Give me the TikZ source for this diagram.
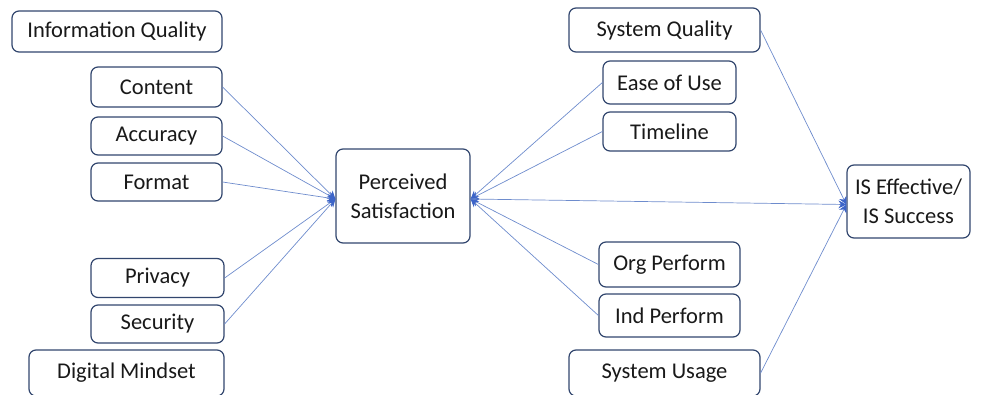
\documentclass[tikz,border=0pt]{standalone}
\usepackage{fontspec}
\setmainfont{Carlito}
\usetikzlibrary{arrows.meta}
\definecolor{boxline}{RGB}{50,70,110}
\definecolor{conn}{RGB}{110,140,205}
\definecolor{tipc}{RGB}{60,100,200}
\definecolor{txt}{RGB}{25,25,25}
\begin{document}
\begin{tikzpicture}[x=1pt,y=-1pt,
  box/.style={draw=boxline,line width=1.2pt,rounded corners=7pt,fill=white,inner sep=0pt,text=txt,font=\fontsize{22.5}{29}\selectfont,align=center},
  link/.style={draw=conn,line width=0.7pt},
  arr/.style={link,-{Stealth[length=8pt,width=8pt,color=tipc]}}]
\useasboundingbox (0,0) rectangle (982,394);
\node[box,minimum width=210pt,minimum height=41pt] (iq) at (117,31.5) {Information Quality};
\node[box,minimum width=131pt,minimum height=40pt] (content) at (156.5,87) {Content};
\node[box,minimum width=131pt,minimum height=38pt] (acc) at (156.5,136) {Accuracy};
\node[box,minimum width=131pt,minimum height=38pt] (fmt) at (156.5,182) {Format};
\node[box,minimum width=133pt,minimum height=39pt] (priv) at (157.5,278) {Privacy};
\node[box,minimum width=133pt,minimum height=38pt] (sec) at (157.5,324) {Security};
\node[box,minimum width=195pt,minimum height=46pt] (dm) at (126.5,373) {Digital Mindset};
\node[box,minimum width=134pt,minimum height=94pt] (ps) at (403,196) {Perceived\\Satisfaction};
\node[box,minimum width=191pt,minimum height=44pt] (sq) at (664.5,30) {System Quality};
\node[box,minimum width=133pt,minimum height=43pt] (eou) at (669.5,82.5) {Ease of Use};
\node[box,minimum width=133pt,minimum height=39pt] (tl) at (669.5,131.5) {Timeline};
\node[box,minimum width=141pt,minimum height=45pt] (org) at (669.5,264.5) {Org Perform};
\node[box,minimum width=141pt,minimum height=43pt] (ind) at (669.5,315.5) {Ind Perform};
\node[box,minimum width=191pt,minimum height=46pt] (su) at (664.5,373) {System Usage};
\node[box,minimum width=123pt,minimum height=73pt] (ise) at (908.5,201.5) {IS Effective/\\IS Success};
\coordinate (psl) at ([yshift=-3pt]ps.west);
\coordinate (psr) at ([yshift=-3pt]ps.east);
\coordinate (isl) at ([yshift=-3pt]ise.west);
\foreach \n in {content,acc,fmt,priv,sec} \draw[arr] (\n.east) -- (psl);
\foreach \n in {eou,tl,org,ind} \draw[arr] (\n.west) -- (psr);
\draw[arr] (psr) -- (isl);
\draw[arr] (sq.east) -- (isl);
\draw[arr] (su.east) -- (isl);
\end{tikzpicture}
\end{document}
